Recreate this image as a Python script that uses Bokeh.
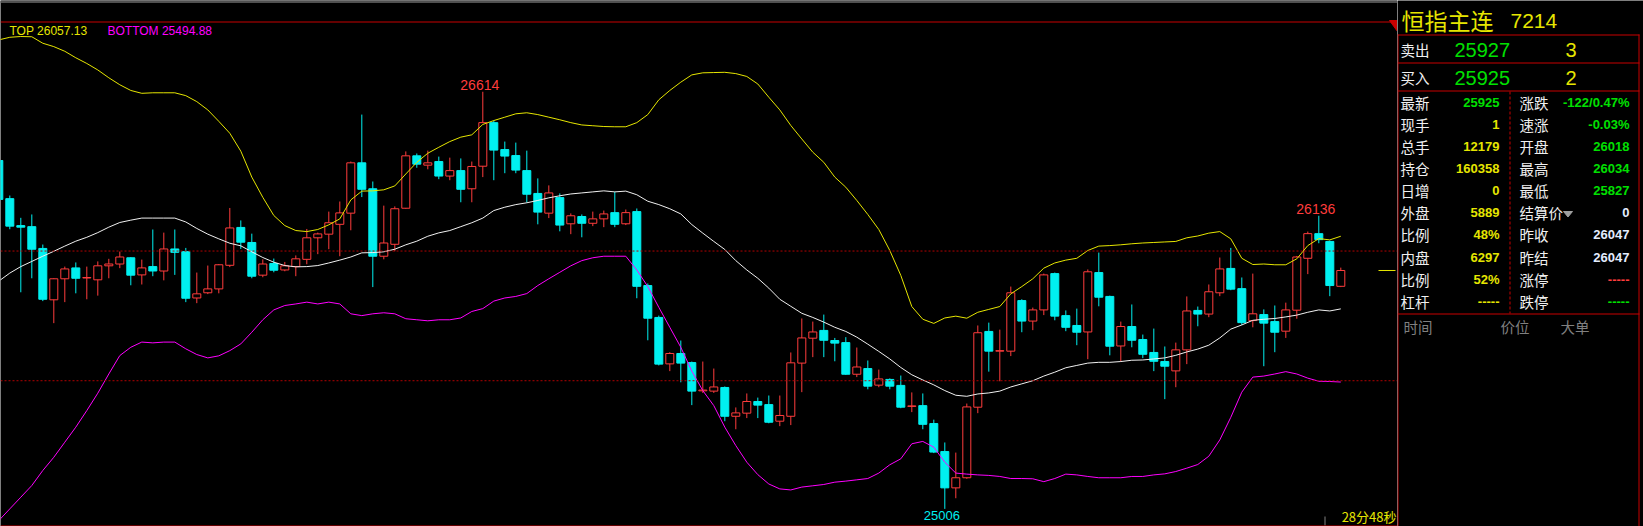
from bokeh.plotting import figure
from bokeh.layouts import row
from bokeh.models import Range1d, Span, ColumnDataSource
from bokeh.core.properties import value
from bokeh.embed import file_html
from bokeh.resources import INLINE

# ---------------- data ----------------
opens = [26349, 26202, 26098, 26094, 26010, 25812, 25893, 25935, 25896, 25889,
         25943, 25950, 25974, 25908, 25940, 25923, 26008, 25998, 25819, 25839,
         25854, 25945, 26091, 26033, 25907, 25952, 25927, 25940, 25968, 26051,
         26065, 26103, 26146, 26340, 26240, 25980, 26026, 26165, 26367, 26331,
         26345, 26289, 26310, 26240, 26327, 26495, 26391, 26368, 26310, 26222,
         26146, 26206, 26105, 26133, 26107, 26124, 26148, 26105, 26152, 25867,
         25744, 25565, 25605, 25570, 25461, 25460, 25474, 25363, 25375, 25420,
         25408, 25344, 25363, 25568, 25664, 25694, 25655, 25647, 25525, 25547,
         25483, 25505, 25482, 25401, 25404, 25335, 25227, 25087, 25126, 25398,
         25690, 25614, 25614, 25809, 25730, 25773, 25913, 25751, 25713, 25688,
         25917, 25825, 25634, 25709, 25659, 25609, 25574, 25538, 25619, 25771,
         25757, 25839, 25933, 25855, 25732, 25755, 25728, 25691, 25772, 25972,
         26067, 26037, 25864]
highs = [26355, 26214, 26128, 26141, 26025, 25895, 25940, 25956, 25940, 25960,
         25970, 25998, 25976, 25967, 26083, 26071, 26083, 26012, 25917, 25944,
         25950, 26166, 26118, 26067, 25968, 25971, 25958, 25983, 26085, 26071,
         26152, 26191, 26345, 26526, 26268, 26175, 26172, 26384, 26376, 26387,
         26364, 26360, 26357, 26345, 26614, 26503, 26422, 26418, 26387, 26280,
         26253, 26222, 26145, 26141, 26152, 26156, 26228, 26160, 26164, 25875,
         25751, 25610, 25655, 25574, 25574, 25547, 25478, 25397, 25451, 25435,
         25443, 25443, 25609, 25740, 25728, 25755, 25665, 25668, 25628, 25578,
         25543, 25509, 25520, 25455, 25451, 25350, 25262, 25223, 25412, 25713,
         25724, 25697, 25863, 25814, 25782, 25913, 25917, 25771, 25778, 25929,
         25994, 25828, 25728, 25794, 25678, 25701, 25632, 25647, 25825, 25786,
         25871, 25975, 26012, 25898, 25913, 25775, 25790, 25801, 25981, 26075,
         26136, 26040, 25936]
lows = [26195, 26084, 25841, 25895, 25807, 25722, 25803, 25837, 25814, 25828,
        25895, 25934, 25868, 25871, 25903, 25887, 25908, 25803, 25799, 25834,
        25837, 25938, 26008, 25895, 25899, 25918, 25922, 25903, 25949, 25988,
        26007, 25980, 26080, 26208, 25861, 25968, 25999, 26163, 26321, 26315,
        26277, 26273, 26188, 26188, 26285, 26273, 26300, 26300, 26187, 26103,
        26127, 26076, 26065, 26053, 26096, 26092, 26092, 26100, 25818, 25656,
        25559, 25537, 25494, 25406, 25453, 25453, 25344, 25313, 25356, 25356,
        25336, 25325, 25329, 25456, 25591, 25591, 25575, 25523, 25514, 25467,
        25475, 25467, 25394, 25379, 25313, 25221, 25006, 25047, 25122, 25375,
        25535, 25498, 25595, 25687, 25695, 25753, 25733, 25691, 25637, 25583,
        25787, 25598, 25574, 25629, 25587, 25537, 25429, 25475, 25564, 25710,
        25745, 25826, 25849, 25715, 25706, 25556, 25610, 25665, 25739, 25911,
        26030, 25826, 25861]
closes = [26199, 26096, 26092, 26007, 25814, 25893, 25931, 25895, 25898, 25943,
          25950, 25977, 25907, 25935, 25923, 26008, 25995, 25818, 25835, 25854,
          25947, 26089, 26034, 25903, 25950, 25926, 25943, 25970, 26051, 26066,
          26109, 26147, 26340, 26238, 25980, 26031, 26163, 26367, 26335, 26340,
          26289, 26310, 26238, 26326, 26495, 26389, 26366, 26312, 26219, 26150,
          26224, 26100, 26136, 26107, 26124, 26143, 26103, 26148, 25864, 25741,
          25564, 25605, 25568, 25460, 25464, 25476, 25363, 25376, 25420, 25406,
          25340, 25366, 25569, 25665, 25688, 25656, 25645, 25525, 25553, 25479,
          25507, 25479, 25398, 25403, 25332, 25225, 25087, 25126, 25399, 25685,
          25614, 25616, 25839, 25730, 25773, 25908, 25749, 25706, 25687, 25920,
          25822, 25633, 25709, 25656, 25602, 25575, 25556, 25619, 25769, 25757,
          25843, 25931, 25853, 25724, 25758, 25722, 25687, 25773, 25977, 26067,
          26044, 25867, 25925]
upper = [26814, 26824, 26827, 26826, 26801, 26788, 26770, 26745, 26723, 26698,
         26668, 26641, 26619, 26608, 26610, 26610, 26610, 26599, 26576, 26544,
         26500, 26454, 26385, 26285, 26207, 26137, 26098, 26079, 26075, 26083,
         26101, 26124, 26197, 26231, 26232, 26236, 26251, 26297, 26342, 26377,
         26400, 26422, 26439, 26448, 26488, 26503, 26516, 26529, 26533, 26526,
         26516, 26506, 26495, 26486, 26483, 26480, 26479, 26479, 26495, 26526,
         26583, 26619, 26651, 26679, 26687, 26688, 26689, 26684, 26673, 26644,
         26593, 26544, 26484, 26432, 26381, 26342, 26285, 26246, 26195, 26141,
         26083, 26002, 25906, 25786, 25737, 25721, 25742, 25749, 25741, 25764,
         25775, 25786, 25835, 25863, 25893, 25934, 25954, 25965, 25972, 26002,
         26019, 26021, 26024, 26028, 26031, 26033, 26035, 26037, 26051, 26058,
         26069, 26075, 26047, 25972, 25948, 25950, 25947, 25947, 25970, 26021,
         26048, 26043, 26057]
mid = [25884, 25915, 25940, 25960, 25980, 25999, 26019, 26038, 26053, 26071,
       26092, 26110, 26119, 26127, 26127, 26127, 26127, 26112, 26087, 26065,
       26047, 26030, 26020, 25997, 25975, 25957, 25944, 25939, 25940, 25944,
       25954, 25965, 25977, 25993, 25994, 25997, 26007, 26024, 26038, 26057,
       26070, 26079, 26094, 26109, 26127, 26156, 26169, 26179, 26186, 26195,
       26205, 26213, 26220, 26224, 26228, 26232, 26228, 26231, 26217, 26192,
       26179, 26163, 26143, 26102, 26069, 26037, 26006, 25963, 25927, 25895,
       25857, 25814, 25787, 25760, 25744, 25726, 25706, 25690, 25668, 25641,
       25613, 25584, 25551, 25523, 25503, 25484, 25462, 25444, 25440, 25449,
       25453, 25460, 25476, 25488, 25500, 25518, 25533, 25550, 25559, 25568,
       25571, 25571, 25574, 25579, 25580, 25584, 25588, 25598, 25611, 25622,
       25637, 25665, 25699, 25715, 25733, 25737, 25740, 25746, 25753, 25764,
       25773, 25769, 25777]
lower = [24961, 25006, 25051, 25096, 25154, 25205, 25263, 25321, 25385, 25452,
         25526, 25597, 25629, 25649, 25646, 25649, 25649, 25623, 25601, 25588,
         25596, 25616, 25642, 25687, 25735, 25773, 25790, 25796, 25803, 25796,
         25803, 25796, 25758, 25751, 25758, 25762, 25758, 25739, 25735, 25731,
         25735, 25735, 25742, 25767, 25778, 25807, 25819, 25825, 25836, 25867,
         25893, 25918, 25943, 25963, 25974, 25980, 25980, 25980, 25927, 25863,
         25783, 25706, 25629, 25537, 25462, 25404, 25321, 25250, 25186, 25138,
         25102, 25083, 25079, 25090, 25095, 25100, 25109, 25113, 25118, 25123,
         25144, 25176, 25199, 25257, 25266, 25244, 25186, 25144, 25140, 25137,
         25135, 25131, 25123, 25123, 25122, 25111, 25123, 25140, 25137, 25131,
         25126, 25126, 25126, 25131, 25131, 25137, 25141, 25150, 25163, 25177,
         25209, 25272, 25359, 25456, 25514, 25518, 25526, 25535, 25526, 25510,
         25498, 25497, 25495]
grid_levels = [26000, 25500]
band_labels = ["TOP 26057.13", "BOTTOM 25494.88"]
high_marks = [44, 120]
low_marks = [86]
clock_text = "28分48秒"

title_name = "恒指主连"
title_code = "7214"
quote_rows = [("卖出", "25927", "3"), ("买入", "25925", "2")]
left_labels = ["最新", "现手", "总手", "持仓", "日增", "外盘", "比例", "内盘", "比例", "杠杆"]
left_values = ["25925", "1", "12179", "160358", "0", "5889", "48%", "6297", "52%", "-----"]
right_labels = ["涨跌", "速涨", "开盘", "最高", "最低", "结算价", "昨收", "昨结", "涨停", "跌停"]
right_values = ["-122/0.47%", "-0.03%", "26018", "26034", "25827", "0", "26047", "26047", "-----", "-----"]
tick_headers = ["时间", "价位", "大单"]

# ---------------- styles ----------------
BG = "#000000"
RED = "#FF3C3C"
CYAN = "#00F0F0"
YEL = "#E6E600"
WHITE = "#F0F0F0"
MAG = "#FF00FF"
BORDER = "#C80000"
GRIDC = "#B00000"
GREEN = "#00E000"
LIGHT = "#E4ECFF"
GRAY = "#808080"
CJK = value("Noto Sans CJK SC")
LAT = value("Liberation Sans")

left_colors = [GREEN, YEL, YEL, YEL, YEL, YEL, YEL, YEL, YEL, YEL]
right_colors = [GREEN, GREEN, GREEN, GREEN, GREEN, LIGHT, LIGHT, LIGHT, RED, GREEN]

H = 526
LW = 1397
RW = 246
PXX = 11.0
X0 = 1.7 / PXX
YTOP = 26965.8
PTY = 3.855


def xr(px):
    return X0 + px / PXX


def yr(py):
    return YTOP - py * PTY


def blank(fig):
    fig.xgrid.visible = False
    fig.ygrid.visible = False
    fig.background_fill_color = BG
    fig.border_fill_color = BG
    fig.outline_line_color = None
    fig.min_border = 0
    return fig


# ---------------- chart ----------------
pL = figure(width=LW, height=H, x_range=Range1d(X0, X0 + LW / PXX),
            y_range=Range1d(YTOP - H * PTY, YTOP), output_backend="svg",
            toolbar_location=None, x_axis_location=None, y_axis_location=None,
            min_border=0)
blank(pL)

n = len(opens)
idx = list(range(n))
up = [c >= o for o, c in zip(opens, closes)]
src = ColumnDataSource(dict(
    x=idx, h=highs, l=lows,
    top=[max(o, c) for o, c in zip(opens, closes)],
    bot=[min(o, c) for o, c in zip(opens, closes)],
    col=[RED if u else CYAN for u in up],
    fill=[BG if u else CYAN for u in up],
))

for lv in grid_levels:
    pL.add_layout(Span(location=lv, dimension="width", line_color=GRIDC,
                       line_dash="2 2", line_width=1))

pL.segment(x0="x", y0="l", x1="x", y1="h", line_color="col", line_width=1, source=src)
pL.vbar(x="x", width=8 / PXX, top="top", bottom="bot", fill_color="fill",
        line_color="col", line_width=1, source=src)

pL.line(idx, upper, line_color=YEL, line_width=1)
pL.line(idx, mid, line_color=WHITE, line_width=1)
pL.line(idx, lower, line_color=MAG, line_width=1)

# frame of the chart
pL.quad(left=[X0], right=[X0 + LW / PXX], top=[YTOP], bottom=[yr(2.5)],
        fill_color="#505050", line_color=None)
pL.add_layout(Span(location=yr(21.5), dimension="width", line_color=BORDER, line_width=1))
pL.add_layout(Span(location=yr(525.5), dimension="width", line_color=BORDER, line_width=1))
pL.patch([xr(1389), xr(1397), xr(1397)], [yr(20), yr(20), yr(31)], color=BORDER)

# last price marker at the right edge
pL.segment(x0=[xr(1378)], y0=[closes[-1]], x1=[xr(1395)], y1=[closes[-1]],
           line_color=YEL, line_width=1)

# extreme labels
pL.text(x=high_marks, y=[highs[i] for i in high_marks],
        text=[str(highs[i]) for i in high_marks], text_color=RED,
        text_align="center", text_baseline="bottom", x_offset=-3, y_offset=-2,
        text_font=LAT, text_font_size=value("14px"))
pL.text(x=low_marks, y=[lows[i] for i in low_marks],
        text=[str(lows[i]) for i in low_marks], text_color=CYAN,
        text_align="center", text_baseline="top", x_offset=-3, y_offset=2,
        text_font=LAT, text_font_size=value("13px"))

pL.text(x=[xr(9), xr(107)], y=[yr(30), yr(30)], text=band_labels,
        text_color=[YEL, MAG], text_align="left", text_baseline="middle",
        text_font=LAT, text_font_size=value("12px"))

pL.text(x=[xr(1396)], y=[yr(516)], text=[clock_text], text_color=YEL,
        text_align="right", text_baseline="middle", text_font=CJK,
        text_font_size=value("13px"))
pL.segment(x0=[xr(1324.5)], y0=[yr(516)], x1=[xr(1324.5)], y1=[yr(525)],
           line_color=GRAY, line_width=1)

# ---------------- quote panel ----------------
pR = figure(width=RW, height=H, x_range=Range1d(1397, 1397 + RW),
            y_range=Range1d(H, 0), output_backend="svg",
            toolbar_location=None, x_axis_location=None, y_axis_location=None,
            min_border=0)
blank(pR)

R_EDGE = 1638.5
hy = [34.5, 62.5, 90.5, 313.5]
pR.segment(x0=[1397] * 4, y0=hy, x1=[R_EDGE + 0.5] * 4, y1=hy, line_color=BORDER, line_width=1)
pR.segment(x0=[1397.5, R_EDGE], y0=[34, 34], x1=[1397.5, R_EDGE], y1=[H, H],
           line_color=BORDER, line_width=1)
pR.segment(x0=[1509.5], y0=[91], x1=[1509.5], y1=[313], line_color=BORDER,
           line_width=1, line_dash="3 2")

pR.text(x=[1401], y=[19], text=[title_name], text_color=YEL, text_align="left",
        text_baseline="middle", text_font=CJK, text_font_size=value("23px"))
pR.text(x=[1510], y=[20], text=[title_code], text_color=YEL, text_align="left",
        text_baseline="middle", text_font=LAT, text_font_size=value("21px"))

qy = [49, 77]
pR.text(x=[1400] * 2, y=qy, text=[q[0] for q in quote_rows], text_color=WHITE,
        text_align="left", text_baseline="middle", text_font=CJK,
        text_font_size=value("14.5px"))
pR.text(x=[1454] * 2, y=qy, text=[q[1] for q in quote_rows], text_color=GREEN,
        text_align="left", text_baseline="middle", text_font=LAT,
        text_font_size=value("20px"))
pR.text(x=[1565] * 2, y=qy, text=[q[2] for q in quote_rows], text_color=YEL,
        text_align="left", text_baseline="middle", text_font=LAT,
        text_font_size=value("20px"))

ry = [102 + 22.08 * k for k in range(len(left_labels))]
pR.text(x=[1400] * len(ry), y=ry, text=left_labels, text_color=WHITE,
        text_align="left", text_baseline="middle", text_font=CJK,
        text_font_size=value("14.5px"))
pR.text(x=[1499] * len(ry), y=ry, text=left_values, text_color=left_colors,
        text_align="right", text_baseline="middle", text_font=LAT,
        text_font_style="bold", text_font_size=value("13px"))
pR.text(x=[1519] * len(ry), y=ry, text=right_labels, text_color=WHITE,
        text_align="left", text_baseline="middle", text_font=CJK,
        text_font_size=value("14.5px"))
pR.text(x=[1629] * len(ry), y=ry, text=right_values, text_color=right_colors,
        text_align="right", text_baseline="middle", text_font=LAT,
        text_font_style="bold", text_font_size=value("13px"))
pR.patch([1563, 1572, 1567.5], [211, 211, 216.5], color="#A0A0A0")

pR.text(x=[1403, 1500, 1560], y=[326, 326, 326], text=tick_headers, text_color=GRAY,
        text_align="left", text_baseline="middle", text_font=CJK,
        text_font_size=value("14.5px"))

layout = row(pL, pR)
open("out.html", "w").write(file_html(layout, INLINE, "恒指主连"))
